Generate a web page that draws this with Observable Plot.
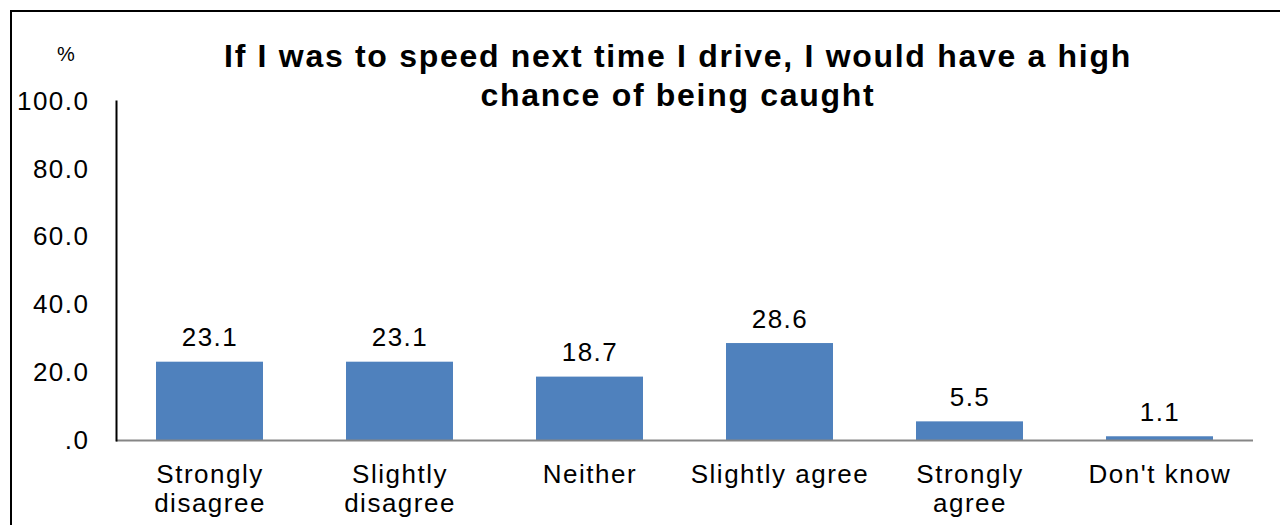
<!DOCTYPE html>
<html>
<head>
<meta charset="utf-8">
<script src="https://cdn.jsdelivr.net/npm/d3@7"></script>
<script src="https://cdn.jsdelivr.net/npm/@observablehq/plot@0.6"></script>
<style>
  html, body { margin: 0; padding: 0; background: #fff; }
  #wrap { position: relative; width: 1280px; height: 525px; overflow: hidden; font-family: "Liberation Sans", Arial, sans-serif; color: #000; }
  #border { position: absolute; left: 10px; top: 10px; width: 1300px; height: 600px; border-left: 2px solid #000; border-top: 2px solid #000; }
  #title { position: absolute; left: 128px; width: 1100px; top: 37px; text-align: center; font-weight: bold; font-size: 32px; line-height: 39px; letter-spacing: 1.7px; }
  #unit { position: absolute; left: 46px; width: 40px; top: 43px; text-align: center; font-size: 20px; }
  #chart { position: absolute; left: 0; top: 0; }
  #chart svg text { letter-spacing: 1.5px; }
</style>
</head>
<body>
<div id="wrap">
  <div id="border"></div>
  <div id="chart"></div>
  <div id="title">If I was to speed next time I drive, I would have a high<br>chance of being caught</div>
  <div id="unit">%</div>
</div>
<script>
const categories = ["Strongly\ndisagree", "Slightly\ndisagree", "Neither", "Slightly agree", "Strongly\nagree", "Don't know"];
const values = [23.1, 23.1, 18.7, 28.6, 5.5, 1.1];
const yTicks = [0, 20, 40, 60, 80, 100];

const data = categories.map((c, i) => ({category: c, value: values[i]}));

const chart = Plot.plot({
  width: 1280,
  height: 525,
  marginLeft: 116,
  marginRight: 27,
  marginTop: 101,
  marginBottom: 85,
  style: {fontFamily: "'Liberation Sans', Arial, sans-serif", fontSize: "26px", color: "#000", background: "transparent", overflow: "visible"},
  x: {domain: categories, paddingInner: 0.435, paddingOuter: 0.205, label: null},
  y: {domain: [0, 100], ticks: yTicks, label: null},
  marks: [
    Plot.axisY({ticks: yTicks, tickSize: 0, tickPadding: 27, tickFormat: d => d === 0 ? ".0" : d.toFixed(1), label: null, fontSize: 26}),
    Plot.axisX({tickSize: 0, tickPadding: 22, lineHeight: 1.12, label: null, fontSize: 26}),
    Plot.barY(data, {x: "category", y: "value", fill: "#4F81BD"}),
    Plot.ruleY([0], {stroke: "#868686", strokeWidth: 2}),
    Plot.frame({anchor: "left", stroke: "#000", strokeWidth: 2}),
    Plot.text(data, {x: "category", y: "value", text: d => d.value.toFixed(1), dy: -16, lineAnchor: "bottom", fontSize: 26, fill: "#000"})
  ]
});
document.getElementById("chart").appendChild(chart);
</script>
</body>
</html>
